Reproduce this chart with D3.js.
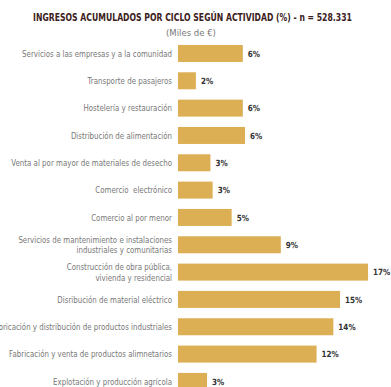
<!DOCTYPE html>
<html><head><meta charset="utf-8">
<script src="https://cdn.jsdelivr.net/npm/d3@7"></script>
<style>
html,body{margin:0;padding:0;background:#fff;}
svg{display:block;}
</style></head>
<body><svg id="chart" width="391" height="387"></svg>
<script>
const categories = [
  ["Servicios a las empresas y a la comunidad"],
  ["Transporte de pasajeros"],
  ["Hostelería y restauración"],
  ["Distribución de alimentación"],
  ["Venta al por mayor de materiales de desecho"],
  ["Comercio  electrónico"],
  ["Comercio al por menor"],
  ["Servicios de mantenimiento e instalaciones", "industriales y comunitarias"],
  ["Construcción de obra pública,", "vivienda y residencial"],
  ["Disribución de material eléctrico"],
  ["Fabricación y distribución de productos industriales"],
  ["Fabricación y venta de productos alimnetarios"],
  ["Explotación y producción agrícola"]
];
const values = [5.8, 1.6, 5.8, 6.0, 2.9, 3.1, 4.8, 9.2, 17.0, 14.5, 13.9, 12.4, 2.6];
const valueLabels = ["6%", "2%", "6%", "6%", "3%", "3%", "5%", "9%", "17%", "15%", "14%", "12%", "3%"];
const title = "INGRESOS ACUMULADOS POR CICLO SEGÚN ACTIVIDAD (%) - n = 528.331";
const subtitle = "(Miles de €)";

const svg = d3.select("#chart");
const keys = categories.map((c, i) => i);
const y = d3.scaleBand().domain(keys).range([39.8, 39.8 + 13 * 27.33]).paddingInner(0.378).paddingOuter(0.189);
const x = d3.scaleLinear().domain([0, 17]).range([178, 368]);
const font = "'DejaVu Sans', sans-serif";

// horizontally compress a text to a target width, anchored at ax
function fitWidth(sel, target, ax) {
  const w = sel.node().getComputedTextLength();
  const k = target / w;
  sel.attr("transform", `translate(${ax},0) scale(${k},1) translate(${-ax},0)`);
  return k;
}

const tt = svg.append("text").attr("x", 192.5).attr("y", 21).attr("text-anchor", "middle")
  .attr("font-family", font).attr("font-weight", "bold").attr("font-size", 11)
  .attr("fill", "#3b2020").text(title);
fitWidth(tt, 319, 192.5);
const st = svg.append("text").attr("x", 191).attr("y", 36.5).attr("text-anchor", "middle")
  .attr("font-family", font).attr("font-size", 9.5)
  .attr("fill", "#777").text(subtitle);
fitWidth(st, 50, 191);

const rows = svg.append("g").selectAll("g").data(keys).join("g");
rows.append("rect")
  .attr("x", x(0)).attr("y", i => y(i))
  .attr("width", i => x(values[i]) - x(0)).attr("height", y.bandwidth())
  .attr("fill", "#dcaf55");
const vl = rows.append("text")
  .attr("x", i => x(values[i]) + 5).attr("y", i => y(i) + y.bandwidth() / 2 + 3.2)
  .attr("font-family", font).attr("font-weight", "bold").attr("font-size", 8.5)
  .attr("fill", "#333").text(i => valueLabels[i]);
vl.each(function(i) {
  const ax = x(values[i]) + 5;
  d3.select(this).attr("transform", `translate(${ax},0) scale(0.85,1) translate(${-ax},0)`);
});

let labelScale = null;
rows.each(function(i) {
  const lines = categories[i];
  const t = d3.select(this).append("text")
    .attr("text-anchor", "end").attr("font-family", font).attr("font-size", 9).attr("fill", "#777")
    .style("white-space", "pre");
  const cy = y(i) + y.bandwidth() / 2 + 3.2;
  lines.forEach((l, k) => {
    t.append("tspan").attr("x", 172).attr("y", cy + (k - (lines.length - 1) / 2) * 10.5).text(l);
  });
  if (labelScale === null) labelScale = fitWidth(t, 150, 172);
  else t.attr("transform", `translate(172,0) scale(${labelScale},1) translate(-172,0)`);
});
</script></body></html>
